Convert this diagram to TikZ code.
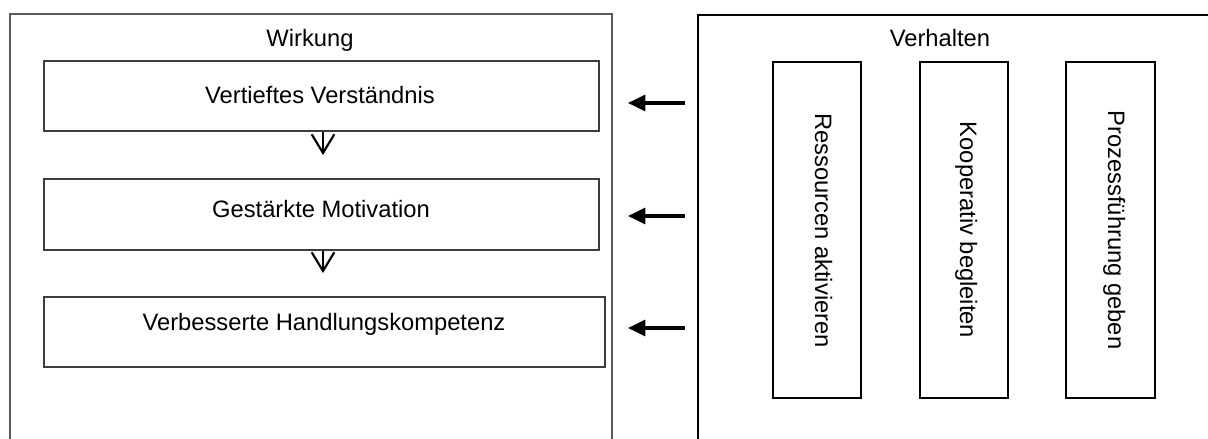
\documentclass[tikz,border=0pt]{standalone}
\usepackage{fontspec}
\setmainfont{Liberation Sans}
\usetikzlibrary{arrows.meta}

\definecolor{outergray}{RGB}{90,90,90}
\definecolor{boxgray}{RGB}{60,60,60}

\tikzset{every picture/.style={line width=1.1pt}}
\tikzset{
  wbox/.style={draw=boxgray, line width=1.1pt, rectangle, inner sep=0pt},
  vbox/.style={draw=black, line width=1.5pt, rectangle, inner sep=0pt},
  lbl/.style={anchor=base, inner sep=0.75pt, font=\fontsize{17.8}{21}\selectfont},
  flowarr/.style={line width=1.6pt, -{Straight Barb[length=14pt,width=17pt]}},
  inarr/.style={line width=2.4pt, -{Triangle[length=13pt,width=12pt]}}
}

\begin{document}
\begin{tikzpicture}[x=0.75pt,y=0.75pt,yscale=-1,xscale=1]
\useasboundingbox (0,0) rectangle (1208,439);
%Outer frames (open at the bottom)
\draw [draw=outergray, line width=1.1pt] (10,439) -- (10,14) -- (612,14) -- (612,439) ;
\draw [draw=black, line width=1.5pt] (698,439) -- (698,14.5) -- (1208,14.5) ;
% Text Node
\node [lbl] (wirk) at (310,46.5) {Wirkung};
% Text Node
\node [lbl] (verh) at (940,46.5) {Verhalten};

%Shape: Rectangle
\node [wbox, minimum width=0.75*555pt, minimum height=0.75*70pt] (b1) at (321.5,96) {};
\node [wbox, minimum width=0.75*555pt, minimum height=0.75*71pt] (b2) at (321.5,214.5) {};
\node [wbox, minimum width=0.75*561pt, minimum height=0.75*70pt] (b3) at (324.5,332) {};
% Text Node
\node [lbl] (t1) at (320,103) {Vertieftes Verständnis};
\node [lbl] (t2) at (321,217) {Gestärkte Motivation};
\node [lbl] (t3) at (324,330) {Verbesserte Handlungskompetenz};

%Straight Lines
\coordinate (a1) at (323,155);
\coordinate (a2) at (323,273);
\draw [flowarr] (b1.south -| a1) -- (a1) ;
\draw [flowarr] (b2.south -| a2) -- (a2) ;

%Shape: Rectangle
\node [vbox, minimum width=0.75*88pt, minimum height=0.75*336pt] (v1) at (817,230) {};
\node [vbox, minimum width=0.75*88pt, minimum height=0.75*336pt] (v2) at (964,230) {};
\node [vbox, minimum width=0.75*89pt, minimum height=0.75*336pt] (v3) at (1110.5,230) {};
% Text Node
\node [lbl, rotate=-90] (s1) at (815,230.5) {Ressourcen aktivieren};
\node [lbl, rotate=-90] (s2) at (960,230) {Kooperativ begleiten};
\node [lbl, rotate=-90] (s3) at (1108,230) {Prozessführung geben};

%Straight Lines
\coordinate (r1) at (685,103);
\coordinate (l1) at (628,103);
\coordinate (r2) at (685,216);
\coordinate (l2) at (628,216);
\coordinate (r3) at (685,328);
\coordinate (l3) at (628,328);
\draw [inarr] (r1) -- (l1) ;
\draw [inarr] (r2) -- (l2) ;
\draw [inarr] (r3) -- (l3) ;
\end{tikzpicture}
\end{document}
